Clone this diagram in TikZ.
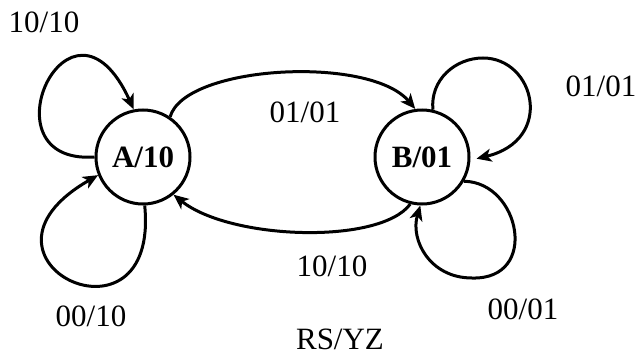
\documentclass[tikz,border=0pt]{standalone}
\usepackage{fontspec}
\setmainfont{Liberation Serif}
\usetikzlibrary{arrows.meta}
\begin{document}
\begin{tikzpicture}[x=1pt,y=-1pt,
  state/.style={circle,draw,line width=3pt,minimum size=94pt,inner sep=0pt,font=\fontsize{31}{36}\selectfont\bfseries},
  lbl/.style={font=\fontsize{31}{36}\selectfont,inner sep=0pt},
  conn/.style={line width=3pt,-{Stealth[length=15pt,width=13pt,inset=4pt]}}]
\useasboundingbox (0,0) rectangle (642,356);
\node[state] (A) at (143,157) {A/10};
\node[state] (B) at (422,157) {B/01};
% self loops A
\draw[conn] (A.180) .. controls (-20,165) and (70,-30) .. (A.101);
\draw[conn] (A.-88) .. controls (160,360) and (-50,260) .. (A.-158);
% A <-> B
\draw[conn] (A.56) .. controls (185,65) and (370,55) .. (B.98);
\draw[conn] (B.-104) .. controls (380,245) and (230,240) .. (A.-51);
% self loops B
\draw[conn] (B.77) .. controls (430,80) and (455,58) .. (483,58)
   .. controls (535,58) and (555,140) .. ([xshift=6pt]B.-2);
\draw[conn] (B.-30) .. controls (520,182) and (540,280) .. (472,278)
   .. controls (430,278) and (410,240) .. (B.-92);
% labels
\node[lbl] (l1) at (44,22) {10/10};
\node[lbl] (l2) at (305,112) {01/01};
\node[lbl] (l3) at (332,266) {10/10};
\node[lbl] (l4) at (91,316) {00/10};
\node[lbl] (l5) at (601,86) {01/01};
\node[lbl] (l6) at (523,309) {00/01};
\node[lbl] (l7) at (340,339) {RS/YZ};
\end{tikzpicture}
\end{document}
